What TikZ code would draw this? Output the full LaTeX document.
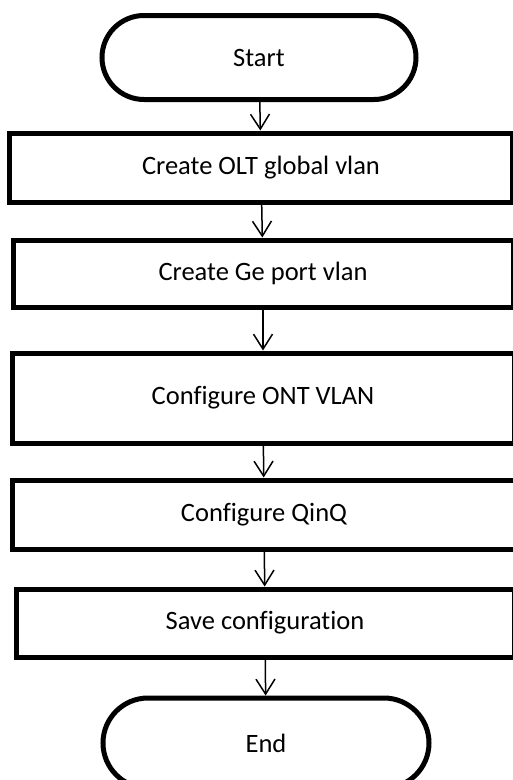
\documentclass[tikz,border=0pt]{standalone}
\usepackage{fontspec}
\setmainfont[Ligatures=NoCommon]{Carlito}
\usetikzlibrary{arrows.meta,shapes.misc}

\tikzset{
  stepbox/.style={draw, line width=5pt, inner sep=0pt, font=\fontsize{26.5}{31}\selectfont},
  terminal/.style={stepbox, rounded rectangle, rounded rectangle arc length=180},
  flow/.style={line width=1.5pt, -{Straight Barb[length=15pt, width=19pt, line width=1.5pt]}}
}

\begin{document}
\begin{tikzpicture}[x=1pt, y=-1pt]
			%%%%% START %%%%%
			\useasboundingbox (0, 0) rectangle (512, 780);
			
			\node[terminal, minimum width=314pt, minimum height=84pt] (start) at (259, 57.5) {Start};
			
			\node[stepbox, minimum width=503pt, minimum height=69pt] (olt) at (261, 167.5) {Create OLT global vlan};
			\node[stepbox, minimum width=500pt, minimum height=67pt] (ge) at (263, 273.5) {Create Ge port vlan};
			\node[stepbox, minimum width=502pt, minimum height=90pt] (ont) at (263, 398) {Configure ONT VLAN};
			\node[stepbox, minimum width=504pt, minimum height=69pt] (qinq) at (264, 514.5) {Configure QinQ};
			\node[stepbox, minimum width=498pt, minimum height=68pt] (save) at (265, 623) {Save configuration};
			
			\node[terminal, minimum width=326pt, minimum height=90pt] (end) at (266, 743) {End};
			
			\draw[flow] (start) -- (olt);
			\draw[flow] (olt) -- (ge);
			\draw[flow] (ge) -- (ont);
			\draw[flow] (ont) -- (qinq);
			\draw[flow] (qinq) -- (save);
			\draw[flow] (save) -- (end);
			%%%%% END %%%%%
\end{tikzpicture}
\end{document}
